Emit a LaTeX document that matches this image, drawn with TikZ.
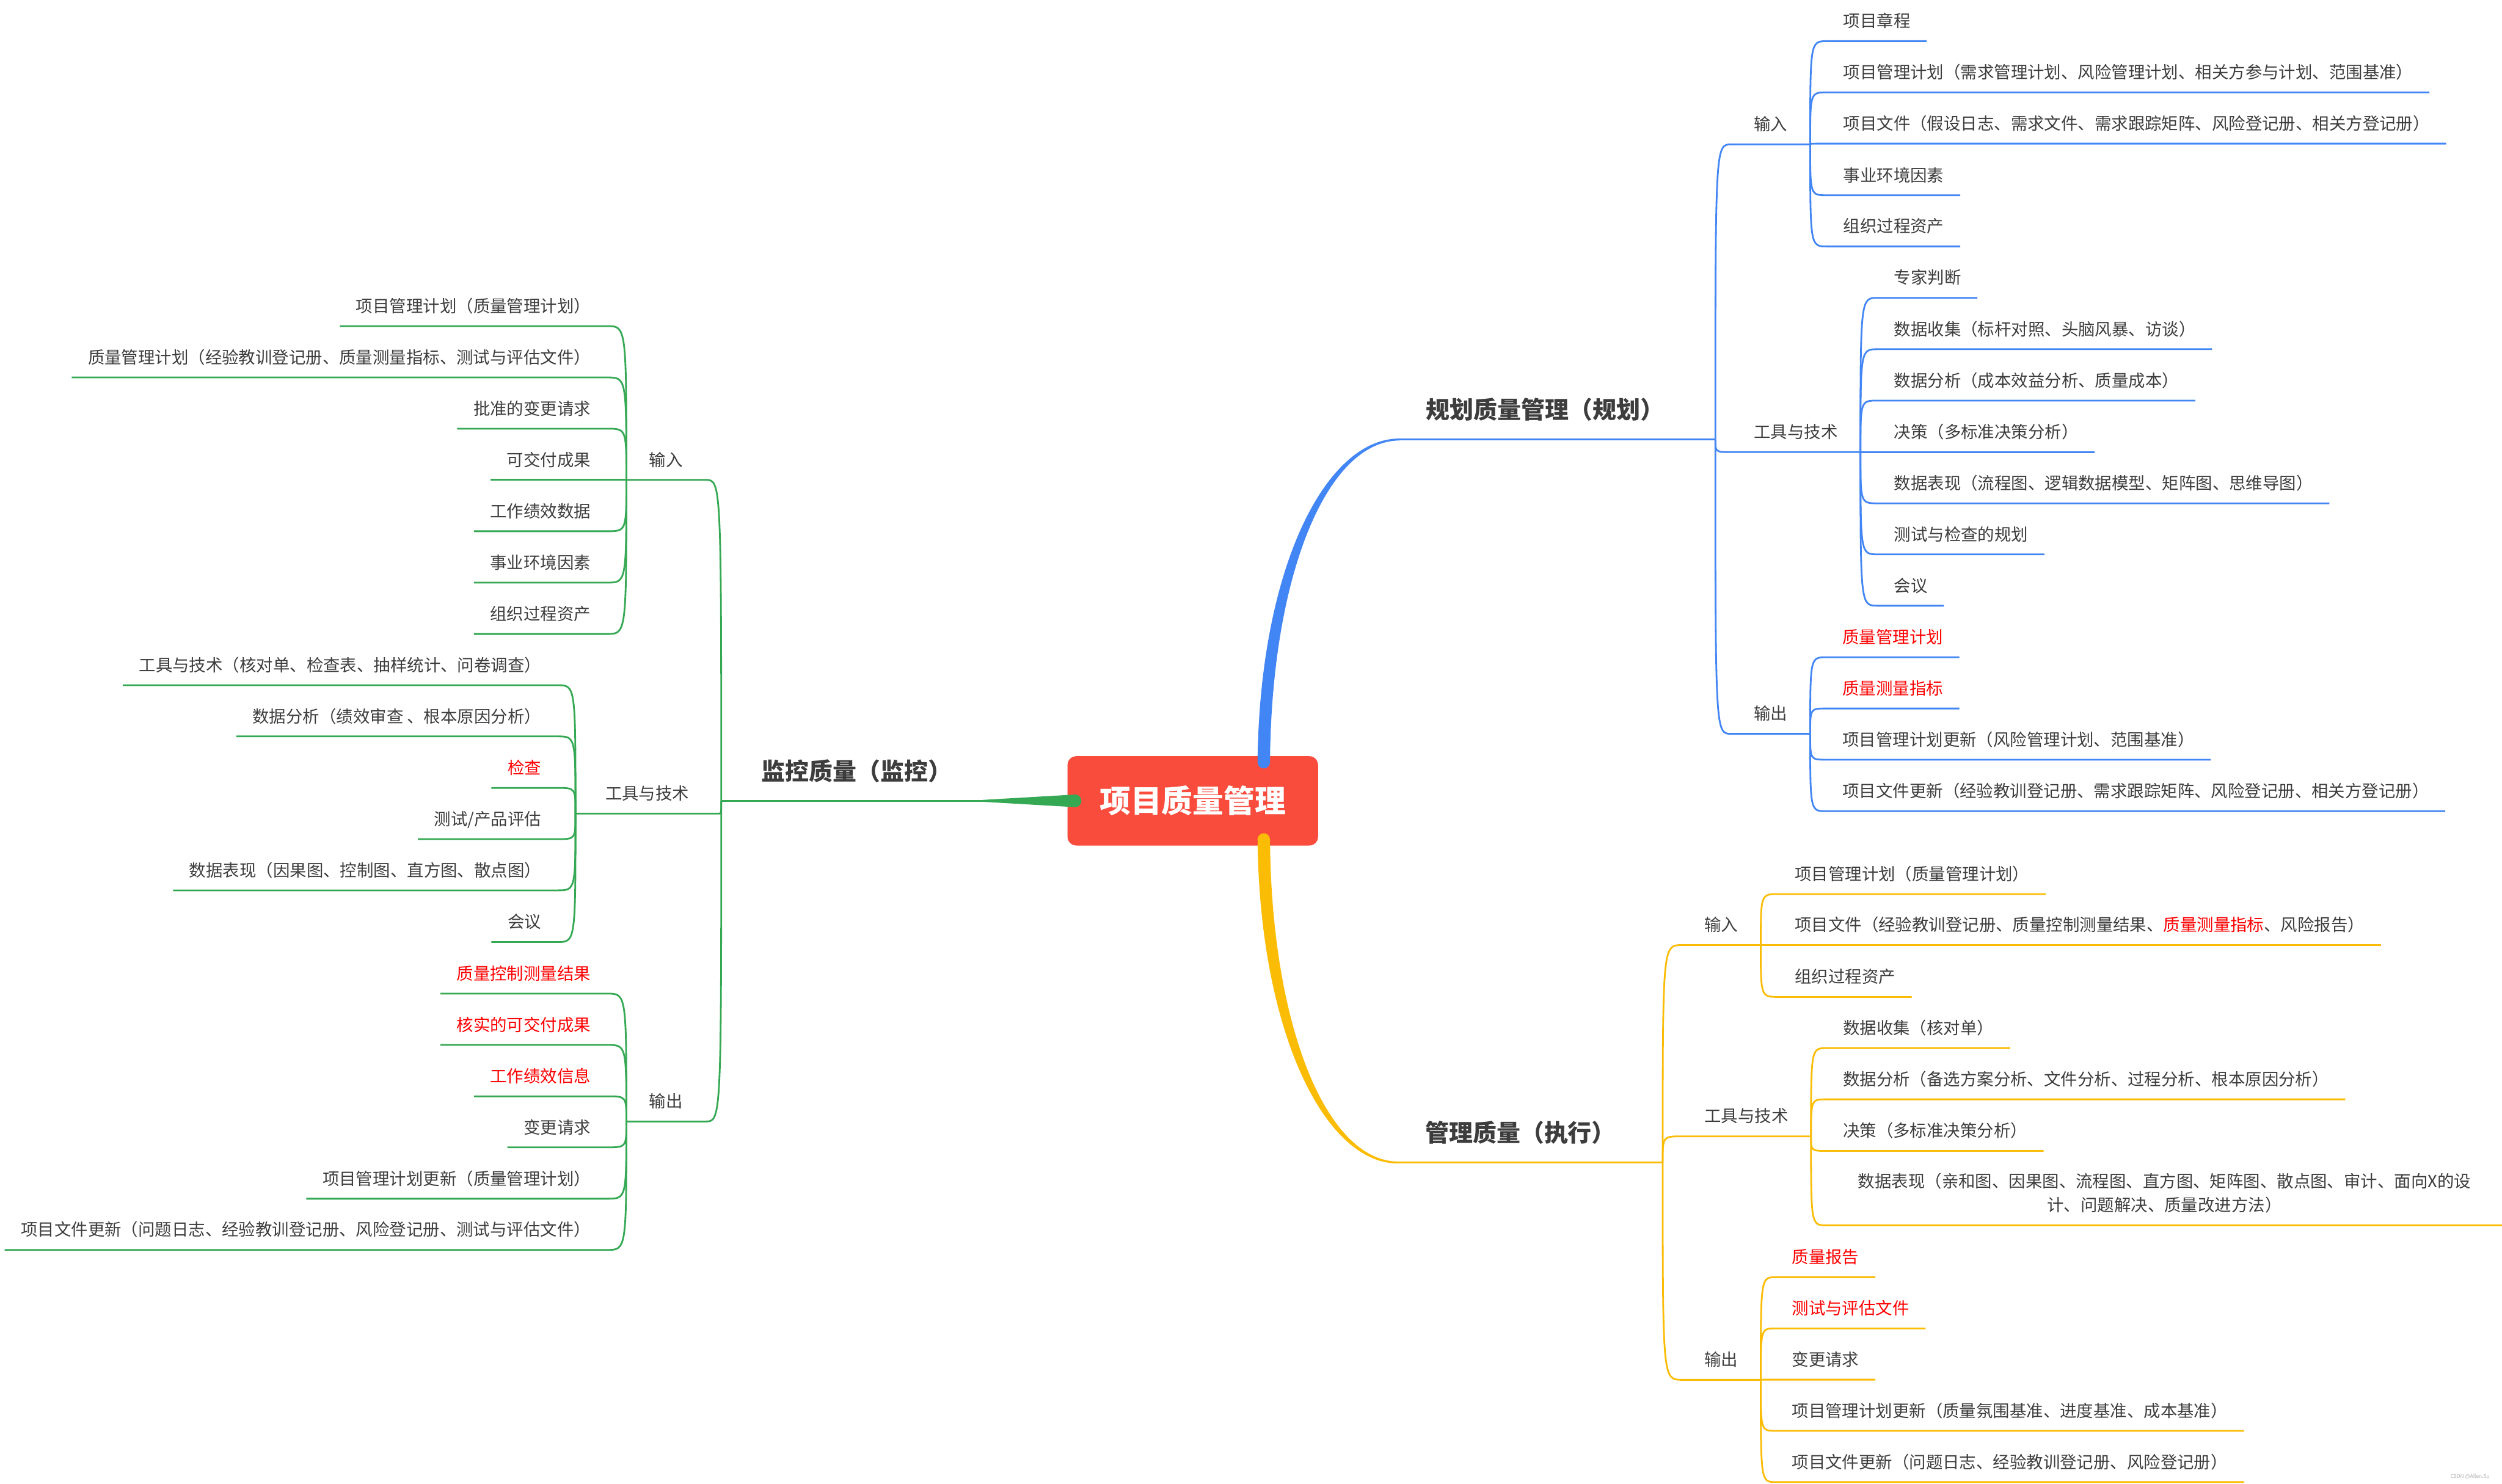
\documentclass[tikz,border=0pt]{standalone}
\usepackage{fontspec}
\setmainfont{Noto Sans CJK SC}
\usetikzlibrary{calc}

\definecolor{gblue}{RGB}{66,133,244}
\definecolor{gyellow}{RGB}{251,188,5}
\definecolor{ggreen}{RGB}{52,168,83}
\definecolor{rootred}{RGB}{249,76,61}
\definecolor{txt}{RGB}{61,61,61}
\definecolor{hotred}{RGB}{255,0,0}

\newcommand{\leafsize}{\fontsize{9.77pt}{13.9pt}\selectfont}
\newcommand{\branchsize}{\fontsize{13.87pt}{16pt}\selectfont\bfseries}
\newcommand{\rootsize}{\fontsize{18.1pt}{20pt}\selectfont\bfseries}

\begin{document}
\begin{tikzpicture}[
    x=0.0327cm, y=-0.0327cm,
    leaf/.style={inner xsep=0.327cm, inner ysep=0pt, text height=8.8pt, text depth=7.9pt, text=txt, font=\leafsize},
    hot/.style={leaf, text=hotred},
    mid/.style={leaf, inner xsep=0.458cm},
    branch/.style={inner sep=0pt, text height=10pt, text depth=11.8pt, text=txt, font=\branchsize},
    rootbox/.style={rectangle, rounded corners=0.18cm, fill=rootred, text=white, font=\rootsize, minimum width=5.134cm, minimum height=1.831cm},
    conn/.style={to path={.. controls (\tikztostart |- \tikztotarget) .. (\tikztotarget)}},
    bl/.style={draw=gblue, line width=1pt},
    yl/.style={draw=gyellow, line width=1pt},
    gl/.style={draw=ggreen, line width=1pt},
]
\useasboundingbox[fill=white] (0,0) rectangle (1568,930);

% centre
\node[rootbox] (root) at (747.5,502) {项目质量管理};

\coordinate (planS) at ($(root.north)+(44.5,4)$);
\coordinate (planE) at (877,275.5);
\coordinate (planBr) at (1075,275.5);
\coordinate (perfS) at ($(root.south)+(44.5,-4)$);
\coordinate (perfE) at (876,728.7);
\coordinate (perfBr) at (1042,728.7);
\coordinate (monS) at ($(root.west)+(5,0)$);
\coordinate (monE) at (616,502);
\coordinate (monBr) at (452,502);

% main branches
\fill[gblue] ($(planS)+(-3.9,0)$) .. controls ($(planS)+(-2.7,-120)$) and ($(planE)+(-47,-0.6)$) .. ($(planE)+(0,-0.6)$)
    -- ($(planE)+(0,0.6)$) .. controls ($(planE)+(-46,1.1)$) and ($(planS)+(4.7,-116)$) .. ($(planS)+(3.9,0)$) -- cycle;
\fill[gblue] (planS) circle[radius=3.9];
\draw[bl] (planE) -- (planBr);

\fill[gyellow] ($(perfS)+(-3.9,0)$) .. controls ($(perfS)+(-2.7,120)$) and ($(perfE)+(-46,0.6)$) .. ($(perfE)+(0,0.6)$)
    -- ($(perfE)+(0,-0.6)$) .. controls ($(perfE)+(-45,-1.1)$) and ($(perfS)+(4.7,116)$) .. ($(perfS)+(3.9,0)$) -- cycle;
\fill[gyellow] (perfS) circle[radius=3.9];
\draw[yl] (perfE) -- (perfBr);

\fill[ggreen] ($(monS)+(0,-3.95)$) -- ($(monE)+(0,-0.6)$) -- ($(monE)+(0,0.6)$) -- ($(monS)+(0,3.95)$) -- cycle;
\fill[ggreen] (monS) circle[radius=3.95];
\draw[gl] (monE) -- (monBr);

\node[branch, anchor=south west] (plan) at (893.6,275.5) {规划质量管理（规划）};
\node[branch, anchor=south west] (perf) at (893,728.7) {管理质量（执行）};
\node[branch, anchor=south west] (mon) at (477,502) {监控质量（监控）};

% plan quality
\node[mid, anchor=south west] (pin) at (1085,90.5) {输入};
\node[mid, anchor=south west] (ptool) at (1085,283.4) {工具与技术};
\node[mid, anchor=south west] (pout) at (1085,460) {输出};
\draw[bl] (planBr) to[conn] (pin.south west) -- (pin.south east);
\draw[bl] (planBr) to[conn] (ptool.south west) -- (ptool.south east);
\draw[bl] (planBr) to[conn] (pout.south west) -- (pout.south east);

\node[leaf, anchor=south west] (pin1) at (1145,25.8) {项目章程};
\node[leaf, anchor=south west] (pin2) at (1145,57.9) {项目管理计划（需求管理计划、风险管理计划、相关方参与计划、范围基准）};
\node[leaf, anchor=south west] (pin3) at (1145,90.0) {项目文件（假设日志、需求文件、需求跟踪矩阵、风险登记册、相关方登记册）};
\node[leaf, anchor=south west] (pin4) at (1145,122.4) {事业环境因素};
\node[leaf, anchor=south west] (pin5) at (1145,154.5) {组织过程资产};
\draw[bl] (pin.south east) to[conn] (pin1.south west) -- (pin1.south east);
\draw[bl] (pin.south east) to[conn] (pin2.south west) -- (pin2.south east);
\draw[bl] (pin.south east) to[conn] (pin3.south west) -- (pin3.south east);
\draw[bl] (pin.south east) to[conn] (pin4.south west) -- (pin4.south east);
\draw[bl] (pin.south east) to[conn] (pin5.south west) -- (pin5.south east);

\node[leaf, anchor=south west] (pt1) at (1176.8,186.7) {专家判断};
\node[leaf, anchor=south west] (pt2) at (1176.8,218.9) {数据收集（标杆对照、头脑风暴、访谈）};
\node[leaf, anchor=south west] (pt3) at (1176.8,251.1) {数据分析（成本效益分析、质量成本）};
\node[leaf, anchor=south west] (pt4) at (1176.8,283.4) {决策（多标准决策分析）};
\node[leaf, anchor=south west] (pt5) at (1176.8,315.5) {数据表现（流程图、逻辑数据模型、矩阵图、思维导图）};
\node[leaf, anchor=south west] (pt6) at (1176.8,347.5) {测试与检查的规划};
\node[leaf, anchor=south west] (pt7) at (1176.8,379.7) {会议};
\draw[bl] (ptool.south east) to[conn] (pt1.south west) -- (pt1.south east);
\draw[bl] (ptool.south east) to[conn] (pt2.south west) -- (pt2.south east);
\draw[bl] (ptool.south east) to[conn] (pt3.south west) -- (pt3.south east);
\draw[bl] (ptool.south east) to[conn] (pt4.south west) -- (pt4.south east);
\draw[bl] (ptool.south east) to[conn] (pt5.south west) -- (pt5.south east);
\draw[bl] (ptool.south east) to[conn] (pt6.south west) -- (pt6.south east);
\draw[bl] (ptool.south east) to[conn] (pt7.south west) -- (pt7.south east);

\node[hot, anchor=south west] (po1) at (1144.5,412) {质量管理计划};
\node[hot, anchor=south west] (po2) at (1144.5,444.1) {质量测量指标};
\node[leaf, anchor=south west] (po3) at (1144.5,476.2) {项目管理计划更新（风险管理计划、范围基准）};
\node[leaf, anchor=south west] (po4) at (1144.5,508.5) {项目文件更新（经验教训登记册、需求跟踪矩阵、风险登记册、相关方登记册）};
\draw[bl] (pout.south east) to[conn] (po1.south west) -- (po1.south east);
\draw[bl] (pout.south east) to[conn] (po2.south west) -- (po2.south east);
\draw[bl] (pout.south east) to[conn] (po3.south west) -- (po3.south east);
\draw[bl] (pout.south east) to[conn] (po4.south west) -- (po4.south east);

% manage quality
\node[mid, anchor=south west] (ein) at (1054,592.4) {输入};
\node[mid, anchor=south west] (etool) at (1054,712.3) {工具与技术};
\node[mid, anchor=south west] (eout) at (1054,864.9) {输出};
\draw[yl] (perfBr) to[conn] (ein.south west) -- (ein.south east);
\draw[yl] (perfBr) to[conn] (etool.south west) -- (etool.south east);
\draw[yl] (perfBr) to[conn] (eout.south west) -- (eout.south east);

\node[leaf, anchor=south west] (ei1) at (1114.6,560.4) {项目管理计划（质量管理计划）};
\node[leaf, anchor=south west] (ei2) at (1114.6,592.4) {项目文件（经验教训登记册、质量控制测量结果、\textcolor{hotred}{质量测量指标}、风险报告）};
\node[leaf, anchor=south west] (ei3) at (1114.6,624.9) {组织过程资产};
\draw[yl] (ein.south east) to[conn] (ei1.south west) -- (ei1.south east);
\draw[yl] (ein.south east) to[conn] (ei2.south west) -- (ei2.south east);
\draw[yl] (ein.south east) to[conn] (ei3.south west) -- (ei3.south east);

\node[leaf, anchor=south west] (et1) at (1144.8,657) {数据收集（核对单）};
\node[leaf, anchor=south west] (et2) at (1144.8,689.1) {数据分析（备选方案分析、文件分析、过程分析、根本原因分析）};
\node[leaf, anchor=south west] (et3) at (1144.8,721.4) {决策（多标准决策分析）};
\node[leaf, anchor=south west, text height={}, align=center, minimum width=13.83cm] (et4) at (1144.8,768.1)
    {数据表现（亲和图、因果图、流程图、直方图、矩阵图、散点图、审计、面向X的设\\计、问题解决、质量改进方法）};
\draw[yl] (etool.south east) to[conn] (et1.south west) -- (et1.south east);
\draw[yl] (etool.south east) to[conn] (et2.south west) -- (et2.south east);
\draw[yl] (etool.south east) to[conn] (et3.south west) -- (et3.south east);
\draw[yl] (etool.south east) to[conn] (et4.south west) -- (et4.south east);

\node[hot, anchor=south west] (eo1) at (1112.8,800.6) {质量报告};
\node[hot, anchor=south west] (eo2) at (1112.8,832.7) {测试与评估文件};
\node[leaf, anchor=south west] (eo3) at (1112.8,864.8) {变更请求};
\node[leaf, anchor=south west] (eo4) at (1112.8,896.9) {项目管理计划更新（质量氛围基准、进度基准、成本基准）};
\node[leaf, anchor=south west] (eo5) at (1112.8,929) {项目文件更新（问题日志、经验教训登记册、风险登记册）};
\draw[yl] (eout.south east) to[conn] (eo1.south west) -- (eo1.south east);
\draw[yl] (eout.south east) to[conn] (eo2.south west) -- (eo2.south east);
\draw[yl] (eout.south east) to[conn] (eo3.south west) -- (eo3.south east);
\draw[yl] (eout.south east) to[conn] (eo4.south west) -- (eo4.south east);
\draw[yl] (eout.south east) to[conn] (eo5.south west) -- (eo5.south east);

% control quality
\node[mid, anchor=south east] (min) at (442,300.8) {输入};
\node[mid, anchor=south east, inner xsep=0.605cm] (mtool) at (450.6,510) {工具与技术};
\node[mid, anchor=south east] (mout) at (442,703) {输出};
\draw[gl] (monBr) to[conn] (min.south east) -- (min.south west);
\draw[gl] (monBr) to[conn] (mtool.south east) -- (mtool.south west);
\draw[gl] (monBr) to[conn] (mout.south east) -- (mout.south west);

\node[leaf, anchor=south east] (mi1) at (380.4,204.4) {项目管理计划（质量管理计划）};
\node[leaf, anchor=south east] (mi2) at (380.4,236.6) {质量管理计划（经验教训登记册、质量测量指标、测试与评估文件）};
\node[leaf, anchor=south east] (mi3) at (380.4,268.7) {批准的变更请求};
\node[leaf, anchor=south east] (mi4) at (380.4,300.8) {可交付成果};
\node[leaf, anchor=south east] (mi5) at (380.4,333) {工作绩效数据};
\node[leaf, anchor=south east] (mi6) at (380.4,365.2) {事业环境因素};
\node[leaf, anchor=south east] (mi7) at (380.4,397.4) {组织过程资产};
\draw[gl] (min.south west) to[conn] (mi1.south east) -- (mi1.south west);
\draw[gl] (min.south west) to[conn] (mi2.south east) -- (mi2.south west);
\draw[gl] (min.south west) to[conn] (mi3.south east) -- (mi3.south west);
\draw[gl] (min.south west) to[conn] (mi4.south east) -- (mi4.south west);
\draw[gl] (min.south west) to[conn] (mi5.south east) -- (mi5.south west);
\draw[gl] (min.south west) to[conn] (mi6.south east) -- (mi6.south west);
\draw[gl] (min.south west) to[conn] (mi7.south east) -- (mi7.south west);

\node[leaf, anchor=south east] (mt1) at (349.4,429.5) {工具与技术（核对单、检查表、抽样统计、问卷调查）};
\node[leaf, anchor=south east] (mt2) at (349.4,461.6) {数据分析（绩效审查 、根本原因分析）};
\node[hot, anchor=south east] (mt3) at (349.4,493.9) {检查};
\node[leaf, anchor=south east] (mt4) at (349.4,526) {测试/产品评估};
\node[leaf, anchor=south east] (mt5) at (349.4,558.1) {数据表现（因果图、控制图、直方图、散点图）};
\node[leaf, anchor=south east] (mt6) at (349.4,590.5) {会议};
\draw[gl] (mtool.south west) to[conn] (mt1.south east) -- (mt1.south west);
\draw[gl] (mtool.south west) to[conn] (mt2.south east) -- (mt2.south west);
\draw[gl] (mtool.south west) to[conn] (mt3.south east) -- (mt3.south west);
\draw[gl] (mtool.south west) to[conn] (mt4.south east) -- (mt4.south west);
\draw[gl] (mtool.south west) to[conn] (mt5.south east) -- (mt5.south west);
\draw[gl] (mtool.south west) to[conn] (mt6.south east) -- (mt6.south west);

\node[hot, anchor=south east] (mo1) at (380.4,622.8) {质量控制测量结果};
\node[hot, anchor=south east] (mo2) at (380.4,655) {核实的可交付成果};
\node[hot, anchor=south east] (mo3) at (380.4,687.2) {工作绩效信息};
\node[leaf, anchor=south east] (mo4) at (380.4,719.2) {变更请求};
\node[leaf, anchor=south east] (mo5) at (380.4,751.4) {项目管理计划更新（质量管理计划）};
\node[leaf, anchor=south east] (mo6) at (380.4,783.5) {项目文件更新（问题日志、经验教训登记册、风险登记册、测试与评估文件）};
\draw[gl] (mout.south west) to[conn] (mo1.south east) -- (mo1.south west);
\draw[gl] (mout.south west) to[conn] (mo2.south east) -- (mo2.south west);
\draw[gl] (mout.south west) to[conn] (mo3.south east) -- (mo3.south west);
\draw[gl] (mout.south west) to[conn] (mo4.south east) -- (mo4.south west);
\draw[gl] (mout.south west) to[conn] (mo5.south east) -- (mo5.south west);
\draw[gl] (mout.south west) to[conn] (mo6.south east) -- (mo6.south west);

\node[font=\fontsize{3pt}{3pt}\selectfont, text=black!30] (wm) at (1548,925.5) {CSDN @Allen.Su};

\end{tikzpicture}
\end{document}
